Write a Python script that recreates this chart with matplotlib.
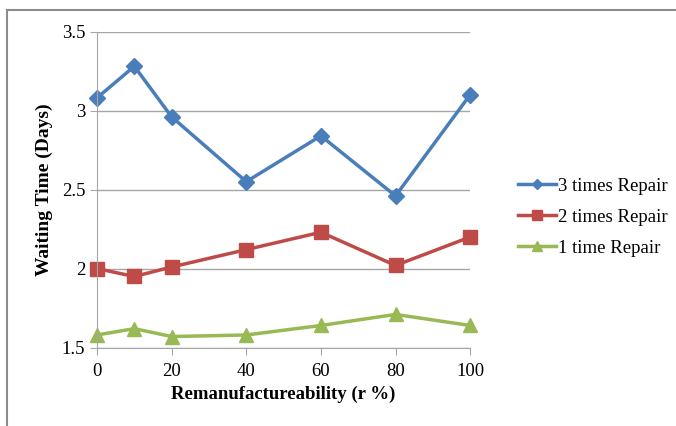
import numpy as np
import matplotlib.pyplot as plt
from matplotlib.patches import Rectangle

plt.rcParams['font.family'] = ['Liberation Serif', 'DejaVu Serif']

r_pct = [0, 10, 20, 40, 60, 80, 100]
repair3 = [3.08, 3.28, 2.96, 2.55, 2.84, 2.46, 3.10]
repair2 = [2.00, 1.95, 2.01, 2.12, 2.23, 2.02, 2.20]
repair1 = [1.58, 1.62, 1.57, 1.58, 1.64, 1.71, 1.64]
labels = ['3 times Repair', '2 times Repair', '1 time Repair']

fig = plt.figure(figsize=(6.76, 4.26), dpi=100)
ax = fig.add_axes([0.1435, 0.184, 0.552, 0.742])

# chart area border (Excel style)
fig.patches.append(Rectangle((7/676, -0.1), 1.2, 1 - 10/426 + 0.1, transform=fig.transFigure,
                             fill=False, edgecolor='#8c8c8c', linewidth=1.5, clip_on=False))

l3, = ax.plot(r_pct, repair3, color='#4A7EBB', lw=2.5, marker='D', ms=8, label=labels[0])
l2, = ax.plot(r_pct, repair2, color='#BE4B48', lw=2.5, marker='s', ms=10, label=labels[1])
l1, = ax.plot(r_pct, repair1, color='#98B954', lw=2.5, marker='^', ms=10, label=labels[2])
for l in (l3, l2, l1):
    l.set_clip_on(False)

ax.set_xlim(0, 100)
ax.set_ylim(1.5, 3.5)
ax.set_xticks([0, 20, 40, 60, 80, 100])
ax.set_yticks([1.5, 2, 2.5, 3, 3.5])
ax.set_yticklabels(['1.5', '2', '2.5', '3', '3.5'])
ax.yaxis.grid(True, color='#a6a6a6', lw=1)
ax.set_axisbelow(True)
for s in ['top', 'right']:
    ax.spines[s].set_visible(False)
for s in ['left', 'bottom']:
    ax.spines[s].set_color('#a6a6a6')
ax.tick_params(axis='both', colors='#a6a6a6', labelcolor='black', labelsize=13.5, length=5, direction='out')
ax.tick_params(axis='x', pad=6)

ax.set_xlabel('Remanufactureability (r %)', fontsize=13.5, fontweight='bold', labelpad=4)
ax.set_ylabel('Waiting Time (Days)', fontsize=14, fontweight='bold', labelpad=6)

leg = fig.legend(handles=[l3, l2, l1], loc='center left', bbox_to_anchor=(0.742, 0.49),
                 frameon=False, fontsize=13.5, handlelength=2.0, handletextpad=0.1,
                 labelspacing=0.75, markerscale=0.7)

fig.savefig('out.png', dpi=100)
